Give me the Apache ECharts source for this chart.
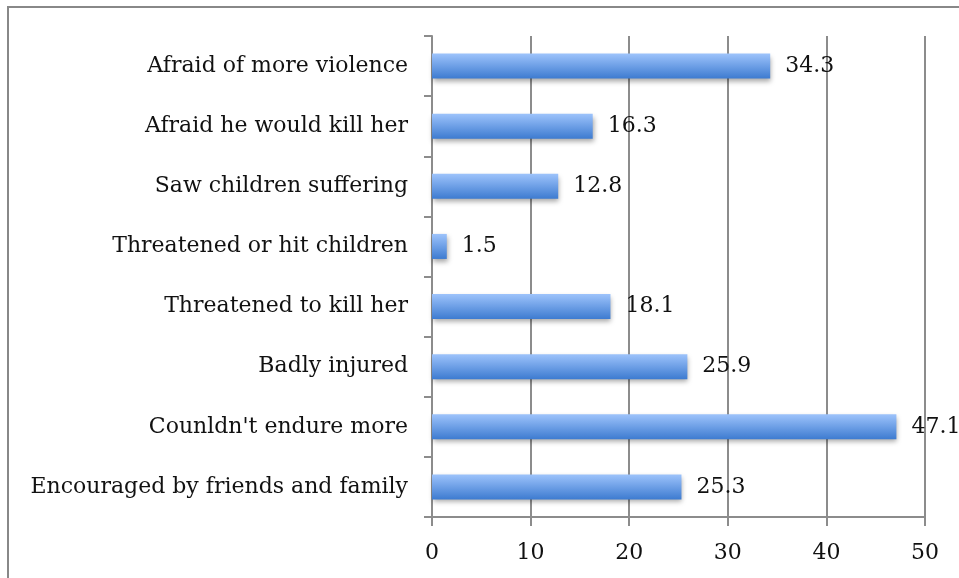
<!DOCTYPE html>
<html><head><meta charset="utf-8">
<script src="https://cdn.jsdelivr.net/npm/echarts@6/dist/echarts.min.js"></script>
<style>html,body{margin:0;padding:0;background:#fff}#c{width:959px;height:578px}</style>
</head><body><div id="c"></div>
<script>
const categories = ["Encouraged by friends and family","Counldn't endure more","Badly injured","Threatened to kill her","Threatened or hit children","Saw children suffering","Afraid he would kill her","Afraid of more violence"];
const values = [25.3, 47.1, 25.9, 18.1, 1.5, 12.8, 16.3, 34.3];
const xTicks = [0, 10, 20, 30, 40, 50];

const FONT = "'DejaVu Serif', serif";
const chart = echarts.init(document.getElementById('c'), null, {renderer: 'canvas'});
chart.setOption({
  animation: false,
  graphic: [{type: 'rect', shape: {x: 8, y: 7, width: 1000, height: 700}, style: {fill: 'none', stroke: '#888', lineWidth: 2}, silent: true}],
  grid: {left: 432, right: 34, top: 36, bottom: 61},
  xAxis: {
    type: 'value', min: xTicks[0], max: xTicks[xTicks.length-1], interval: 10,
    axisLine: {show: true, lineStyle: {color: '#8c8c8c', width: 2}},
    axisTick: {show: true, length: 9, lineStyle: {color: '#8c8c8c', width: 2}},
    splitLine: {show: true, lineStyle: {color: '#8c8c8c', width: 2}},
    axisLabel: {fontFamily: FONT, fontSize: 22, color: '#111', margin: 25}
  },
  yAxis: {
    type: 'category', data: categories,
    axisLine: {show: true, lineStyle: {color: '#8c8c8c', width: 2}},
    axisTick: {show: true, length: 8, lineStyle: {color: '#8c8c8c', width: 2}},
    axisLabel: {fontFamily: FONT, fontSize: 22, color: '#111', margin: 24, padding: [4, 0, 0, 0]}
  },
  series: [{
    type: 'bar', data: values, barWidth: 25,
    itemStyle: {
      color: new echarts.graphic.LinearGradient(0, 0, 0, 1, [
        {offset: 0, color: '#9dc3fb'},
        {offset: 0.5, color: '#6d9fe6'},
        {offset: 1, color: '#3d7bd0'}
      ]),
      shadowColor: 'rgba(0,0,0,0.35)', shadowBlur: 5, shadowOffsetX: 1, shadowOffsetY: 3
    },
    label: {show: true, position: 'right', distance: 15, fontFamily: FONT, fontSize: 22, color: '#111', padding: [4, 0, 0, 0]}
  }]
});
</script></body></html>
